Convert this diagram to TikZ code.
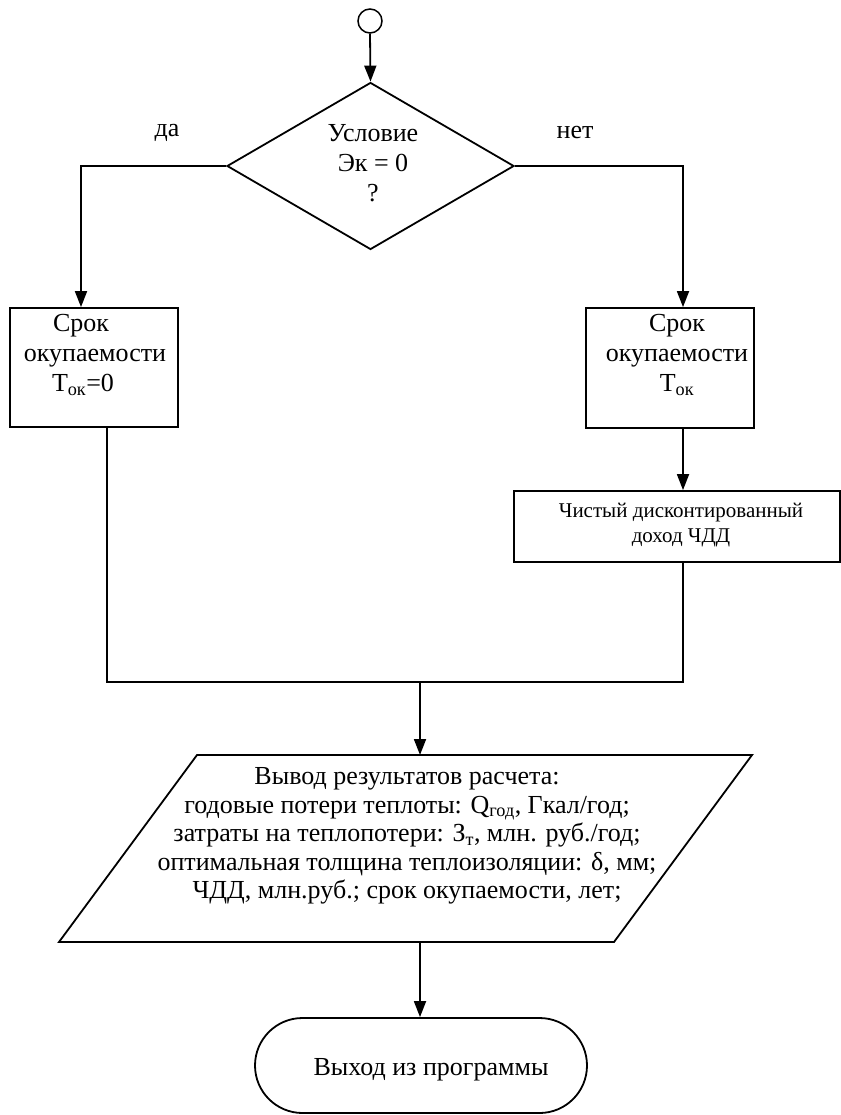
\documentclass[tikz,border=0pt]{standalone}
\usepackage{fontspec}
\setmainfont{Liberation Serif}
\usetikzlibrary{shapes.geometric,shapes.misc,arrows.meta,calc}

\begin{document}
\begin{tikzpicture}[x=1pt,y=-1pt,
  line width=1.8pt,
  arr/.style={-{Triangle[length=16pt,width=12pt]}},
  block/.style={draw, rectangle, inner sep=0pt},
  txt/.style={align=center, font=\fontsize{26}{30}\selectfont, inner sep=0pt},
  small/.style={align=center, font=\fontsize{21}{25}\selectfont, inner sep=0pt},
]
\useasboundingbox (0,0) rectangle (840,1115);

% start connector and decision
\node[draw, circle, line width=1.5pt, minimum size=24pt, inner sep=0pt] (start) at (370,21) {};
\node[draw, diamond, minimum width=287pt, minimum height=167pt, inner sep=0pt] (cond) at (370.5,166) {};
\node[txt] (condtext) at (373,163) {Условие\\ Эк = 0\\ ?};
\node[txt] (yes) at (167,133) {да};
\node[txt] (no) at (575,133) {нет};

% payback period blocks
\node[block, minimum width=168pt, minimum height=119pt] (lbox) at (94,367.5) {};
\node[txt] (ltext) at (95,355) {Срок\kern28pt\\окупаемости\\Т\textsubscript{ок}=0\kern24pt};
\node[block, minimum width=168pt, minimum height=120pt] (rbox) at (670,368) {};
\node[txt] (rtext) at (677,355) {Срок\\окупаемости\\Т\textsubscript{ок}};

% net present value block
\node[block, minimum width=326pt, minimum height=71pt] (npv) at (677,526.5) {};
\node[small] (npvtext) at (681,525) {Чистый дисконтированный\\доход ЧДД};

% output parallelogram
\coordinate (p1) at (197,755);
\coordinate (p2) at (752,755);
\coordinate (p3) at (614,942);
\coordinate (p4) at (59,942);
\draw (p1) -- (p2) -- (p3) -- (p4) -- cycle;
\node[txt, font=\fontsize{26}{28.5}\selectfont] (io) at (407,836) {Вывод результатов расчета:\\
годовые потери теплоты: Q\textsubscript{год}, Гкал/год;\\
затраты на теплопотери: З\textsubscript{т}, млн. руб./год;\\
оптимальная толщина теплоизоляции: δ, мм;\\
ЧДД, млн.руб.; срок окупаемости, лет;};

% terminator
\node[draw, rounded rectangle, minimum width=332pt, minimum height=95pt, inner sep=0pt] (stop) at (421,1065.5) {};
\node[txt] (stoptext) at (431,1070) {Выход из программы};

% connectors
\coordinate (lx) at (81,0);
\coordinate (rx) at (683,0);
\coordinate (lout) at (107,0);
\coordinate (join) at (420,682);
\draw[arr] (start.south) -- (cond.north);
\draw[arr] (cond.west) -| (lx |- lbox.north);
\draw[arr] (cond.east) -| (rx |- rbox.north);
\draw[arr] (rx |- rbox.south) -- (rx |- npv.north);
\draw (lout |- lbox.south) |- (rx |- join) -- (rx |- npv.south);
\draw[arr] (join) -- (join |- p1);
\draw[arr] (join |- p4) -- (join |- stop.north);
\end{tikzpicture}
\end{document}
